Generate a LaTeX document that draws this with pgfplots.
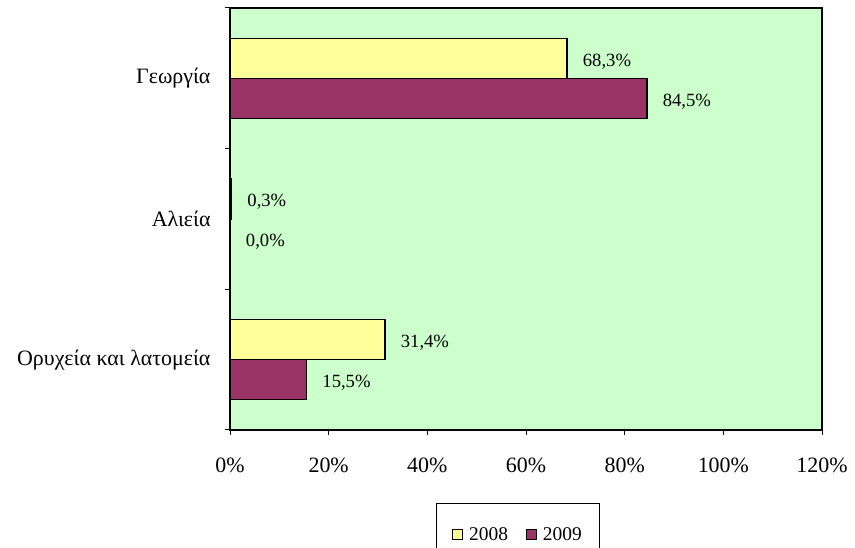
\documentclass[border=0pt]{standalone}
\usepackage{fontspec}
\setmainfont{Liberation Serif}
\usepackage{pgfplots}
\pgfplotsset{compat=1.18}
\definecolor{bggreen}{HTML}{CCFFCC}
\definecolor{byellow}{HTML}{FFFF99}
\definecolor{bmaroon}{HTML}{993366}
\begin{document}
\begin{tikzpicture}
\useasboundingbox (0,0) rectangle (855bp,548bp);
\begin{axis}[
  at={(230bp,118bp)}, anchor=south west,
  scale only axis, width=592bp, height=422bp,
  xbar, bar width=0.284,
  xmin=0, xmax=120, ymin=-0.5, ymax=2.5,
  axis background/.style={fill=bggreen},
  axis line style={black, line width=1.3bp},
  xtick={0,20,40,60,80,100,120},
  xticklabel={\pgfmathprintnumber{\tick}\%},
  ytick={-0.5,0.5,1.5,2.5},
  yticklabels={},
  extra y ticks={0,1,2},
  extra y tick labels={Ορυχεία και λατομεία, Αλιεία, Γεωργία},
  extra y tick style={tick style={draw=none}, yticklabel style={font=\fontsize{22}{26}\selectfont, xshift=-11bp}},
  major tick length=5bp,
  tick align=outside,
  tick style={black, line width=1bp},
  xtick pos=bottom, ytick pos=left,
  /pgf/number format/assume math mode=true,
  xticklabel style={font=\fontsize{22}{26}\selectfont, yshift=-19bp},
  nodes near coords={\pgfmathprintnumber[fixed,fixed zerofill,precision=1,use comma]{\pgfplotspointmeta}\%},
  point meta=x,
  every node near coord/.append style={font=\fontsize{18.7}{22}\selectfont, anchor=west, xshift=12bp, yshift=-3bp, black},
  legend style={at={(0.4865,-0.2485)}, anchor=center, legend columns=2,
    draw=black, line width=1bp, font=\fontsize{19.5}{22}\selectfont,
    inner xsep=16bp, inner ysep=22bp,
    /tikz/every odd column/.append style={column sep=4bp},
    /tikz/every even column/.append style={column sep=16bp}},
  legend image code/.code={\draw[#1, line width=0.9bp] (0bp,-5bp) rectangle (10bp,5bp);},
]
\addplot[draw=black, line width=1.3bp, fill=byellow, bar shift=0.142] coordinates {(31.4,0) (0.3,1) (68.3,2)};
\addplot[draw=black, line width=1.3bp, fill=bmaroon, bar shift=-0.142] coordinates {(15.5,0) (0.0,1) (84.5,2)};
\legend{2008, 2009}
\end{axis}
\end{tikzpicture}
\end{document}
